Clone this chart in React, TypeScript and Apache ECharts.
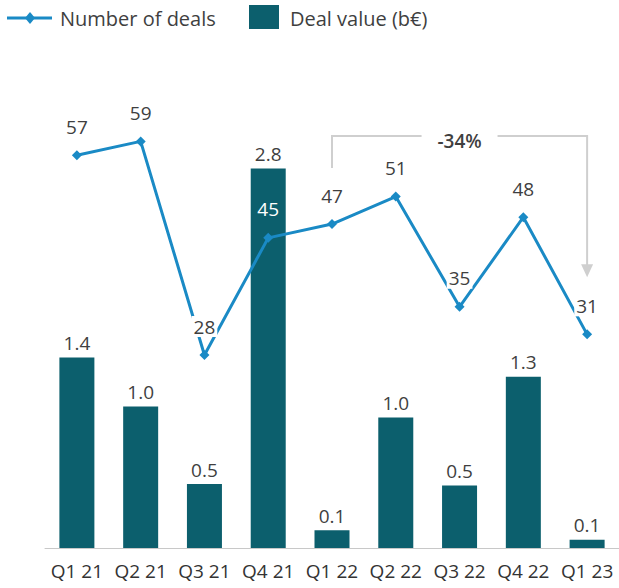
import React, { useEffect, useRef } from "react";
import * as echarts from "echarts";

const categories = ["Q1 21", "Q2 21", "Q3 21", "Q4 21", "Q1 22", "Q2 22", "Q3 22", "Q4 22", "Q1 23"];
const dealValues = [1.4, 1.04, 0.47, 2.79, 0.13, 0.96, 0.46, 1.26, 0.06];
const dealCounts = [57, 59, 28, 45, 47, 51, 35, 48, 31];
const changeLabel = "-34%";
const lineName = "Number of deals";
const barName = "Deal value (b€)";

const FONT = "'Open Sans', 'Noto Sans', sans-serif";
const LINE_COLOR = "#1a8ac5";
const BAR_COLOR = "#0c5f6d";
const TEXT_COLOR = "#3f3f3f";
const GRAY = "#cfcfcf";

export default function App() {
  const ref = useRef<HTMLDivElement>(null);
  useEffect(() => {
    if (!ref.current) return;
    const chart = echarts.init(ref.current, null, { renderer: "svg" });
    const option: any = {
      animation: false,
      textStyle: { fontFamily: FONT },
      grid: { left: 45, top: 140, width: 576, height: 408 },
      xAxis: {
        type: "category",
        data: categories,
        axisTick: { show: false },
        axisLine: { lineStyle: { color: "#c8c8c8", width: 1 } },
        axisLabel: { color: "#333", fontSize: 19, fontFamily: FONT, margin: 13, interval: 0 },
      },
      yAxis: [
        { type: "value", min: 0, max: 3, show: false, splitLine: { show: false } },
        { type: "value", min: 0, max: 59.2, show: false, splitLine: { show: false } },
      ],
      series: [
        {
          name: barName,
          type: "bar",
          data: dealValues,
          barWidth: 35,
          itemStyle: { color: BAR_COLOR },
          label: {
            show: true,
            position: "top",
            distance: 5,
            fontSize: 19,
            fontFamily: FONT,
            color: TEXT_COLOR,
            formatter: (p: any) => Number(p.value).toFixed(1),
          },
          z: 2,
        },
        {
          name: lineName,
          type: "line",
          yAxisIndex: 1,
          data: dealCounts.map((v, i) =>
            i === 3
              ? { value: v, label: { color: "#ffffff", backgroundColor: "transparent" } }
              : v
          ),
          symbol: "diamond",
          symbolSize: 10,
          lineStyle: { color: LINE_COLOR, width: 3 },
          itemStyle: { color: LINE_COLOR },
          label: {
            show: true,
            position: "top",
            distance: 13,
            fontSize: 19,
            fontFamily: FONT,
            color: TEXT_COLOR,
            backgroundColor: "#ffffff",
            padding: [1, 2],
          },
          z: 5,
        },
      ],
    };
    chart.setOption(option);

    const x1 = chart.convertToPixel({ xAxisIndex: 0 }, categories[4]) as number;
    const x2 = chart.convertToPixel({ xAxisIndex: 0 }, categories[8]) as number;
    const yStart = (chart.convertToPixel({ yAxisIndex: 1 }, dealCounts[4]) as number) - 56;
    const yTip = (chart.convertToPixel({ yAxisIndex: 1 }, dealCounts[8]) as number) - 57;
    const yTop = 136;
    const xm = (x1 + x2) / 2;
    const gap = 38;
    const ly = 18;
    chart.setOption({
      graphic: [
        // legend: line series
        {
          type: "line",
          shape: { x1: 7, y1: ly, x2: 52, y2: ly },
          style: { stroke: LINE_COLOR, lineWidth: 3 },
        },
        {
          type: "polygon",
          shape: { points: [[30, ly - 6], [35, ly], [30, ly + 6], [25, ly]] },
          style: { fill: LINE_COLOR },
        },
        {
          type: "text",
          x: 60,
          y: ly,
          style: {
            text: lineName,
            fontSize: 20,
            fontFamily: FONT,
            fill: TEXT_COLOR,
            align: "left",
            verticalAlign: "middle",
          },
        },
        // legend: bar series
        {
          type: "rect",
          shape: { x: 249, y: 5, width: 30, height: 24 },
          style: { fill: BAR_COLOR },
        },
        {
          type: "text",
          x: 290,
          y: ly,
          style: {
            text: barName,
            fontSize: 20,
            fontFamily: FONT,
            fill: TEXT_COLOR,
            align: "left",
            verticalAlign: "middle",
          },
        },
        // bracket annotation
        {
          type: "polyline",
          shape: { points: [[x1, yStart], [x1, yTop], [xm - gap, yTop]] },
          style: { stroke: GRAY, lineWidth: 2, fill: null },
        },
        {
          type: "polyline",
          shape: { points: [[xm + gap, yTop], [x2, yTop], [x2, yTip - 12]] },
          style: { stroke: GRAY, lineWidth: 2, fill: null },
        },
        {
          type: "polygon",
          shape: { points: [[x2 - 6, yTip - 13], [x2 + 6, yTip - 13], [x2, yTip]] },
          style: { fill: GRAY },
        },
        {
          type: "text",
          x: xm,
          y: yTop + 5,
          style: {
            text: changeLabel,
            fontSize: 19,
            fontWeight: 600,
            fontFamily: FONT,
            fill: TEXT_COLOR,
            align: "center",
            verticalAlign: "middle",
          },
        },
      ],
    });

    return () => chart.dispose();
  }, []);
  return (
    <div
      ref={ref}
      style={{ position: "fixed", left: 0, top: 0, width: 619, height: 588, background: "#fff" }}
    />
  );
}
